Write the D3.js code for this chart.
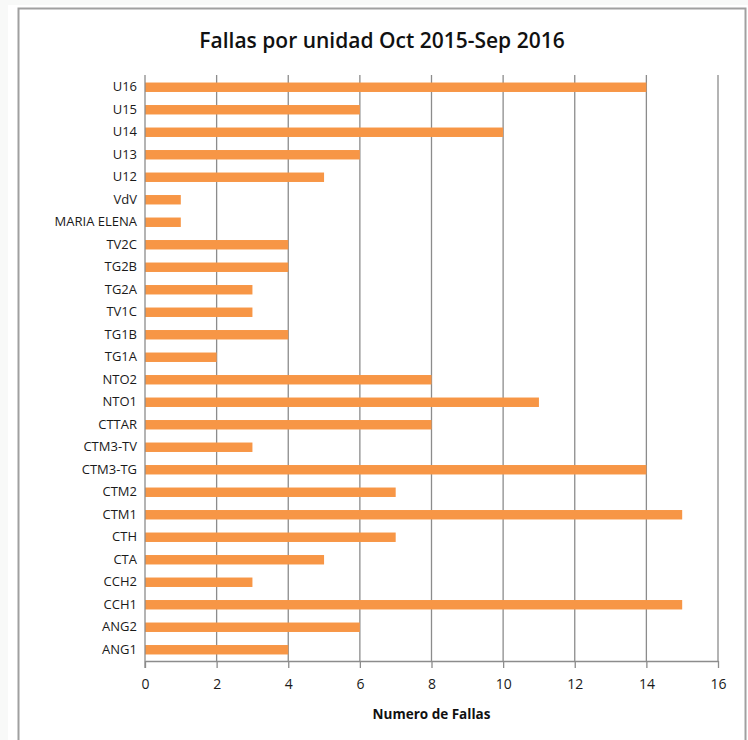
<!DOCTYPE html>
<html>
<head>
<meta charset="utf-8">
<script src="https://cdn.jsdelivr.net/npm/d3@7"></script>
<style>
  body { margin: 0; background: #f8f9f8; }
  svg { display: block; }
</style>
</head>
<body>
<div id="chart"></div>
<script>
// unidades, de arriba hacia abajo
const unidades = ["U16", "U15", "U14", "U13", "U12", "VdV", "MARIA ELENA", "TV2C", "TG2B", "TG2A",
    "TV1C", "TG1B", "TG1A", "NTO2", "NTO1", "CTTAR", "CTM3-TV", "CTM3-TG", "CTM2", "CTM1",
    "CTH", "CTA", "CCH2", "CCH1", "ANG2", "ANG1"];
const fallas = [14, 6, 10, 6, 5, 1, 1, 4, 4, 3,
    3, 4, 2, 8, 11, 8, 3, 14, 7, 15,
    7, 5, 3, 15, 6, 4];
const xTicks = [0, 2, 4, 6, 8, 10, 12, 14, 16];
const titulo = "Fallas por unidad Oct 2015-Sep 2016";
const tituloEje = "Numero de Fallas";

const W = 748, H = 740;
const mLeft = 145, mRight = 718, mTop = 76, mBottom = 661;

const svg = d3.select("#chart").append("svg").attr("width", W).attr("height", H);

// fondo blanco y marco del grafico
svg.append("rect").attr("x", 8).attr("y", 5).attr("width", W - 8).attr("height", H - 5).attr("fill", "#ffffff");
svg.append("rect").attr("x", 18.5).attr("y", 8.5).attr("width", 727).attr("height", 740)
    .attr("fill", "none").attr("stroke", "#a0a0a0").attr("stroke-width", 2);

const x = d3.scaleLinear().domain([0, 16]).range([mLeft, mRight]);
const y = d3.scaleBand().domain(unidades).range([mTop, mBottom]).paddingInner(0.58).paddingOuter(0.29);

// lineas de division verticales
svg.append("g").selectAll("line")
    .data(xTicks.filter(d => d > 0)).enter()
    .append("line")
    .attr("x1", d => x(d)).attr("x2", d => x(d))
    .attr("y1", mTop - 1).attr("y2", mBottom)
    .attr("stroke", "#8c8c8c").attr("stroke-width", 1.3);

// barras
svg.append("g").selectAll("rect")
    .data(unidades).enter()
    .append("rect")
    .attr("x", x(0))
    .attr("y", d => y(d))
    .attr("width", (d, i) => x(fallas[i]) - x(0))
    .attr("height", y.bandwidth())
    .attr("fill", "#f79646");

// eje x
const xAxis = svg.append("g")
    .attr("transform", "translate(0," + mBottom + ")")
    .call(d3.axisBottom(x).tickValues(xTicks).tickSize(7).tickPadding(11).tickSizeOuter(0));
xAxis.select(".domain").attr("stroke", "#8c8c8c").attr("stroke-width", 1.3);
xAxis.selectAll(".tick line").attr("stroke", "#8c8c8c").attr("stroke-width", 1.3);
xAxis.selectAll("text").attr("font-family", "'Open Sans', sans-serif").attr("font-size", 14).attr("fill", "#1a1a1a");

// eje y
const yAxis = svg.append("g")
    .attr("transform", "translate(" + mLeft + ",0)")
    .call(d3.axisLeft(y).tickSize(0).tickPadding(8));
yAxis.select(".domain").remove();
yAxis.selectAll("text").attr("font-family", "'Open Sans', sans-serif").attr("font-size", 13).attr("fill", "#1a1a1a");
svg.append("line")
    .attr("x1", mLeft).attr("x2", mLeft).attr("y1", mTop - 1).attr("y2", mBottom + 7)
    .attr("stroke", "#8c8c8c").attr("stroke-width", 1.3);

// titulos
svg.append("text")
    .attr("x", 382).attr("y", 48)
    .attr("text-anchor", "middle")
    .attr("font-family", "'Open Sans', sans-serif").attr("font-size", 21).attr("font-weight", 600)
    .attr("fill", "#111")
    .text(titulo);

svg.append("text")
    .attr("x", (mLeft + mRight) / 2).attr("y", 719)
    .attr("text-anchor", "middle")
    .attr("font-family", "'Open Sans', sans-serif").attr("font-size", 13.5).attr("font-weight", 700)
    .attr("fill", "#111")
    .text(tituloEje);
</script>
</body>
</html>
